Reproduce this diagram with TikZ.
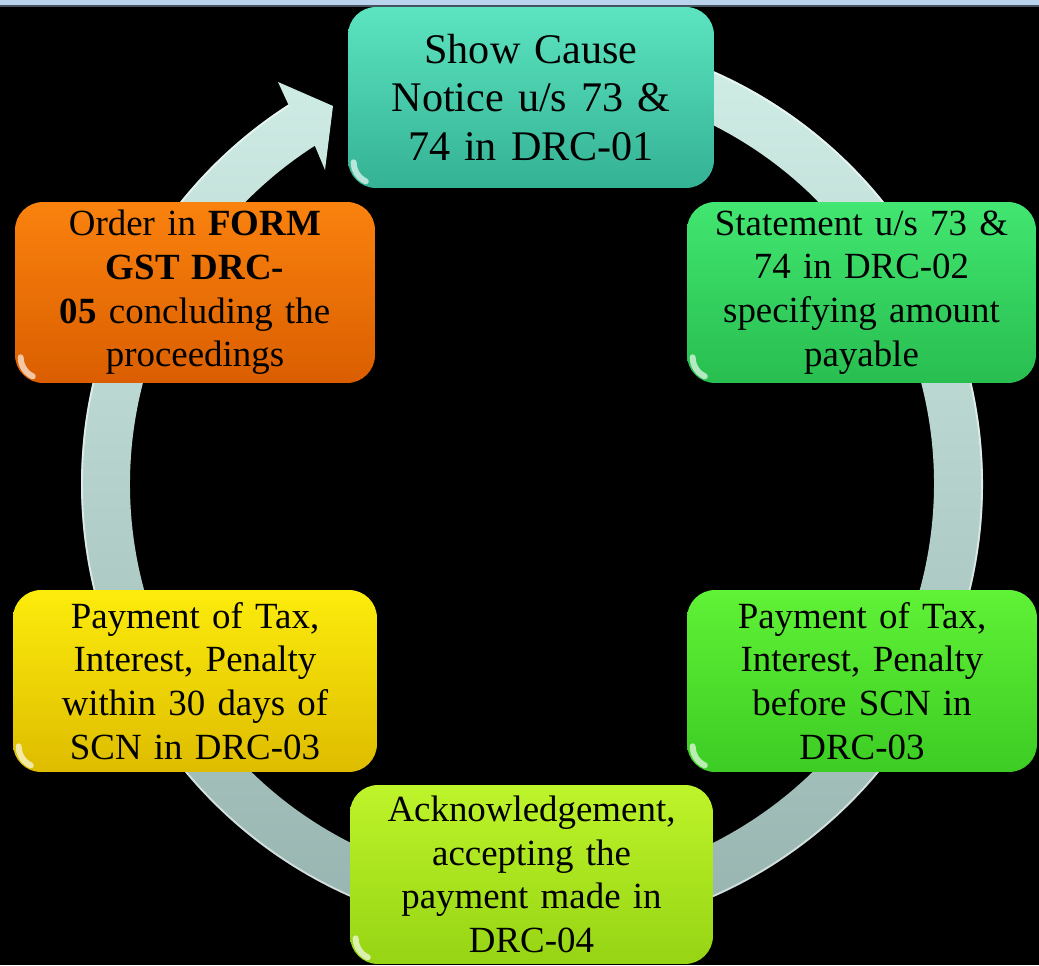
\documentclass[tikz,border=0pt]{standalone}
\usepackage{fontspec}
\setmainfont{Liberation Serif}
\usetikzlibrary{calc}

\definecolor{stripblue}{RGB}{186,212,238}
\definecolor{stripline}{RGB}{70,82,96}
\definecolor{ringtop}{RGB}{210,240,232}
\definecolor{ringbot}{RGB}{150,178,174}
\definecolor{tealA}{RGB}{92,228,192}
\definecolor{tealB}{RGB}{52,178,148}
\definecolor{orangeA}{RGB}{250,130,14}
\definecolor{orangeB}{RGB}{218,94,0}
\definecolor{greenA}{RGB}{66,230,112}
\definecolor{greenB}{RGB}{40,190,80}
\definecolor{limeA}{RGB}{96,242,54}
\definecolor{limeB}{RGB}{60,204,36}
\definecolor{yellowA}{RGB}{252,236,12}
\definecolor{yellowB}{RGB}{222,188,0}
\definecolor{chartA}{RGB}{190,244,42}
\definecolor{chartB}{RGB}{150,212,20}

\begin{document}
\begin{tikzpicture}[x=0.02cm,y=0.02cm,
  stage/.style={rounded corners=0.56cm, align=center, inner sep=0pt,
    text=black, font=\fontsize{21}{24.9}\selectfont},
  glint/.style={draw=white, opacity=0.65, line width=0.12cm, line cap=round},
]
% canvas
\fill[black] (0,0) rectangle (1039,965);
\useasboundingbox (0,0) rectangle (1039,965);
\fill[stripblue] (0,959.5) rectangle (1039,965);
\fill[stripline] (0,958) rectangle (1039,959.5);

% circular arrow running clockwise round the stages
\coordinate (c) at (532,481);
\coordinate (barbout) at (278,883);
\coordinate (tip) at (333,859);
\coordinate (barbin) at (325,795);
\shade[top color=ringtop, bottom color=ringbot]
  ($(c)+(95:451)$) arc[start angle=95, end angle=-237.3, radius=451]
  -- (barbout) -- (tip) -- (barbin)
  -- ($(c)+(122.7:402)$) arc[start angle=122.7, end angle=455, radius=402]
  -- cycle;
\draw[white, opacity=0.55, line width=0.035cm]
  ($(c)+(95:450)$) arc[start angle=95, end angle=-237.3, radius=450];

% stages
\node[stage, top color=tealA, bottom color=tealB,
  minimum width=7.32cm, minimum height=3.62cm, text width=6.9cm,
  font=\fontsize{24}{27.5}\selectfont] (scn) at (531,867.5)
  {Show Cause\\Notice u/s 73 \&\\74 in DRC-01};
\node[stage, top color=greenA, bottom color=greenB,
  minimum width=6.98cm, minimum height=3.62cm, text width=6.6cm] (stmt) at (861.5,672.5)
  {Statement u/s 73 \&\\74 in DRC-02\\specifying amount\\payable};
\node[stage, top color=limeA, bottom color=limeB,
  minimum width=7.0cm, minimum height=3.64cm, text width=6.6cm] (before) at (862,284)
  {Payment of Tax,\\Interest, Penalty\\before SCN in\\DRC-03};
\node[stage, top color=chartA, bottom color=chartB,
  minimum width=7.26cm, minimum height=3.58cm, text width=6.9cm] (ack) at (531.5,90.5)
  {Acknowledgement,\\accepting the\\payment made in\\DRC-04};
\node[stage, top color=yellowA, bottom color=yellowB,
  minimum width=7.28cm, minimum height=3.64cm, text width=6.9cm] (within) at (195,284)
  {Payment of Tax,\\Interest, Penalty\\within 30 days of\\SCN in DRC-03};
\node[stage, top color=orangeA, bottom color=orangeB,
  minimum width=7.2cm, minimum height=3.62cm, text width=6.8cm] (order) at (195,672.5)
  {Order in \textbf{FORM}\\\textbf{GST DRC-}\\\textbf{05} concluding the\\proceedings};

% glossy highlights on the lower left corners
\foreach \n in {scn,stmt,before,ack,within,order}
  \draw[glint] ([shift={(6,26)}]\n.south west) arc[start angle=180, end angle=245, radius=21];
\end{tikzpicture}
\end{document}
